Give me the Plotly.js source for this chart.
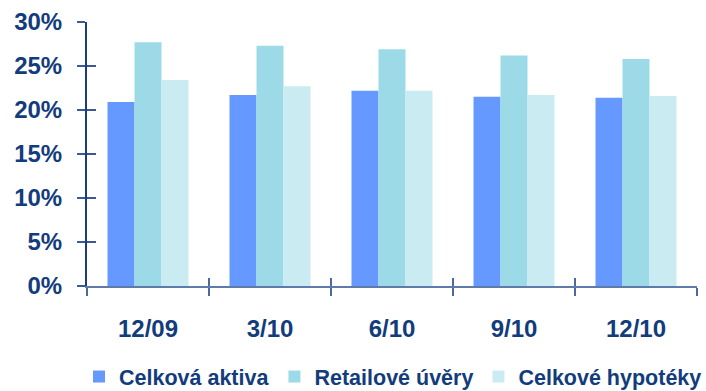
<!DOCTYPE html>
<html>
<head>
<meta charset="utf-8">
<script src="https://cdn.plot.ly/plotly-3.0.1.min.js"></script>
<style>html,body{margin:0;padding:0;background:#fff;}#chart{width:706px;height:391px;}</style>
</head>
<body>
<div id="chart"></div>
<script>
var categories = ['12/09', '3/10', '6/10', '9/10', '12/10'];
var celkovaAktiva = [20.9, 21.7, 22.2, 21.5, 21.4];
var retailoveUvery = [27.7, 27.3, 26.9, 26.2, 25.8];
var celkoveHypoteky = [23.4, 22.7, 22.2, 21.7, 21.6];
var seriesNames = ['Celková aktiva', 'Retailové úvěry', 'Celkové hypotéky'];
var seriesColors = ['#6699FF', '#9CDAE8', '#CBEBF2'];
var yTickVals = [0, 5, 10, 15, 20, 25, 30];
var yTickText = ['0%', '5%', '10%', '15%', '20%', '25%', '30%'];

var navy = '#123C7C';
var fontFam = '"Liberation Sans", Arial, sans-serif';
var values = [celkovaAktiva, retailoveUvery, celkoveHypoteky];
var traces = values.map(function (v, i) {
  return {
    type: 'bar', x: categories, y: v, name: seriesNames[i],
    marker: {color: seriesColors[i], line: {width: 0}},
    hoverinfo: 'none'
  };
});
var boundaries = [];
for (var k = 0; k <= categories.length; k++) boundaries.push(k - 0.5);

var layout = {
  width: 706, height: 391,
  margin: {l: 87, r: 9, t: 22, b: 105, autoexpand: false},
  paper_bgcolor: '#fff', plot_bgcolor: '#fff',
  barmode: 'group', bargap: 0.336, bargroupgap: 0,
  showlegend: true,
  font: {family: fontFam, color: navy, size: 24, weight: 'bold'},
  xaxis: {
    type: 'category', showgrid: false, zeroline: false,
    showline: true, linecolor: '#5F7BAA', linewidth: 2,
    ticks: 'outside', tickson: 'boundaries', ticklen: 8, tickwidth: 2, tickcolor: '#4A6AA0',
    tickfont: {family: fontFam, size: 24, color: navy, weight: 'bold'},
    ticklabelstandoff: 20
  },
  xaxis2: {
    overlaying: 'x', anchor: 'y', range: [-0.5, categories.length - 0.5],
    tickmode: 'array', tickvals: boundaries, showticklabels: false,
    ticks: 'inside', ticklen: 8, tickwidth: 2, tickcolor: '#4A6AA0',
    showgrid: false, zeroline: false, showline: false
  },
  yaxis: {
    range: [0, 30], showgrid: false, zeroline: false,
    showline: true, linecolor: '#1A3D7E', linewidth: 2,
    tickmode: 'array', tickvals: yTickVals, ticktext: yTickText,
    ticks: 'outside', ticklen: 8, tickwidth: 2, tickcolor: '#3A5A94',
    tickfont: {family: fontFam, size: 24, color: navy, weight: 'bold'},
    ticklabelstandoff: 10
  },
  yaxis2: {
    overlaying: 'y', anchor: 'x', side: 'left', range: [0, 30],
    tickmode: 'array', tickvals: yTickVals, showticklabels: false,
    ticks: 'inside', ticklen: 9, tickwidth: 2, tickcolor: '#3A5A94',
    showgrid: false, zeroline: false, showline: false
  },
  legend: {
    orientation: 'h', x: -0.0131, xanchor: 'left', y: -0.343, yanchor: 'middle',
    font: {family: fontFam, size: 21.5, color: navy, weight: 'bold'},
    itemwidth: 30, tracegroupgap: 0, bgcolor: 'rgba(0,0,0,0)'
  }
};
traces.push({type: 'scatter', x: [0], y: [0], xaxis: 'x2', yaxis: 'y2', mode: 'markers', marker: {opacity: 0}, showlegend: false, hoverinfo: 'none'});

Plotly.newPlot('chart', traces, layout, {staticPlot: true, displayModeBar: false});
</script>
</body>
</html>
